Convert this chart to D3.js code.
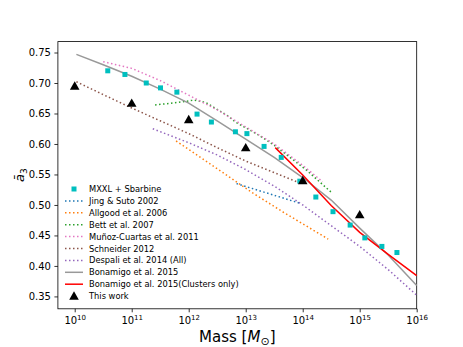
<!DOCTYPE html>
<html>
<head>
<meta charset="utf-8">
<script src="https://cdn.jsdelivr.net/npm/d3@7"></script>
<style>
  body { margin: 0; background: #fff; }
  text { font-family: "DejaVu Sans", sans-serif; }
</style>
</head>
<body>
<div id="chart"></div>
<script>
// data (mass in solar masses)
const mxxlMass = [3.8e10, 7.6e10, 1.8e11, 3.2e11, 6.2e11, 1.4e12, 2.5e12, 6.6e12, 1.05e13, 2.1e13, 4.2e13, 8.9e13, 1.7e14, 3.4e14, 6.8e14, 1.23e15, 2.45e15, 4.5e15];
const mxxlA3 = [0.720, 0.714, 0.700, 0.692, 0.685, 0.649, 0.636, 0.620, 0.617, 0.596, 0.578, 0.539, 0.513, 0.489, 0.467, 0.446, 0.432, 0.422];

const jingMass = [6.9e12, 9.5e13];
const jingA3 = [0.535, 0.502];

const allgoodMass = [6.0e11, 4.0e12, 1.26e13, 4.6e13, 2.8e14];
const allgoodA3 = [0.605, 0.553, 0.521, 0.488, 0.444];

const bettMass = [2.57e11, 6.3e11, 1.26e12, 2.0e12, 4.7e12, 6.6e12, 1.66e13, 3.16e13, 1.17e14, 3.24e14];
const bettA3 = [0.664, 0.668, 0.672, 0.668, 0.647, 0.636, 0.615, 0.598, 0.557, 0.520];

const munozMass = [3.16e10, 1e11, 3.16e11, 1e12, 3.16e12, 1e13, 3.16e13, 1e14, 2.24e14];
const munozA3 = [0.735, 0.724, 0.704, 0.680, 0.656, 0.628, 0.600, 0.565, 0.538];

const schneiderMass = [1.07e10, 3.16e10, 1e11, 3.16e11, 1e12, 3.16e12, 1e13, 3.16e13, 7.9e13];
const schneiderA3 = [0.702, 0.681, 0.659, 0.638, 0.617, 0.594, 0.572, 0.553, 0.538];

const despaliMass = [2.34e11, 1e12, 3.16e12, 1e13, 3.16e13, 1e14, 3.16e14, 1e15, 3.16e15, 1e16];
const despaliA3 = [0.625, 0.602, 0.582, 0.558, 0.531, 0.500, 0.466, 0.432, 0.394, 0.352];

const bonamigoMass = [1.07e10, 3.16e10, 1e11, 3.16e11, 1e12, 3.16e12, 1e13, 3.16e13, 1e14, 3.16e14, 1e15, 3.16e15, 1e16];
const bonamigoA3 = [0.747, 0.730, 0.711, 0.690, 0.667, 0.638, 0.608, 0.578, 0.545, 0.508, 0.462, 0.418, 0.368];

const clustersMass = [3.3e13, 1e14, 3.16e14, 1e15, 3.16e15, 1e16];
const clustersA3 = [0.594, 0.549, 0.499, 0.455, 0.419, 0.384];

const thisWorkMass = [1e10, 1e11, 1e12, 1e13, 1e14, 1e15];
const thisWorkA3 = [0.695, 0.667, 0.640, 0.594, 0.540, 0.484];

const xTicks = [1e10, 1e11, 1e12, 1e13, 1e14, 1e15, 1e16];
const yTicks = [0.35, 0.40, 0.45, 0.50, 0.55, 0.60, 0.65, 0.70, 0.75];

const zip = (xs, ys) => xs.map((x, i) => [x, ys[i]]);

const lineSeries = [
  { label: "Jing & Suto 2002", data: zip(jingMass, jingA3), color: "#1f77b4", dotted: true },
  { label: "Allgood et al. 2006", data: zip(allgoodMass, allgoodA3), color: "#ff7f0e", dotted: true },
  { label: "Bett et al. 2007", data: zip(bettMass, bettA3), color: "#2ca02c", dotted: true },
  { label: "Muñoz-Cuartas et al. 2011", data: zip(munozMass, munozA3), color: "#e377c2", dotted: true },
  { label: "Schneider 2012", data: zip(schneiderMass, schneiderA3), color: "#8c564b", dotted: true },
  { label: "Despali et al. 2014 (All)", data: zip(despaliMass, despaliA3), color: "#9467bd", dotted: true },
  { label: "Bonamigo et al. 2015", data: zip(bonamigoMass, bonamigoA3), color: "#999999", dotted: false },
  { label: "Bonamigo et al. 2015(Clusters only)", data: zip(clustersMass, clustersA3), color: "#ff0000", dotted: false }
];

const W = 463, H = 347;
const margin = { top: 41.6, right: 46.3, bottom: 38.2, left: 57.9 };

const svg = d3.select("#chart").append("svg")
  .attr("width", W)
  .attr("height", H);

const x = d3.scaleLog()
  .domain([Math.pow(10, 9.705), 1e16])
  .range([margin.left, W - margin.right]);

const y = d3.scaleLinear()
  .domain([0.3297, 0.7679])
  .range([H - margin.bottom, margin.top]);

const supDigits = { "0": "⁰", "1": "¹", "2": "²", "3": "³", "4": "⁴", "5": "⁵", "6": "⁶", "7": "⁷", "8": "⁸", "9": "⁹" };

// x axis
const xAxis = svg.append("g")
  .attr("transform", `translate(0,${H - margin.bottom})`)
  .call(d3.axisBottom(x).tickValues(xTicks).tickSize(3.5).tickPadding(3.5).tickFormat(""));
xAxis.select(".domain").remove();
xAxis.selectAll(".tick line").attr("stroke-width", 0.8);
xAxis.selectAll(".tick").each(function(d) {
  const t = d3.select(this).append("text")
    .attr("y", 15.5)
    .attr("fill", "#000")
    .attr("text-anchor", "middle")
    .style("font-size", "10px");
  t.append("tspan").text("10");
  t.append("tspan")
    .attr("dy", -4.5)
    .style("font-size", "7px")
    .text(String(Math.round(Math.log10(d))));
});

// y axis
const yAxis = svg.append("g")
  .attr("transform", `translate(${margin.left},0)`)
  .call(d3.axisLeft(y).tickValues(yTicks).tickSize(3.5).tickPadding(3.5).tickFormat(d3.format(".2f")));
yAxis.select(".domain").remove();
yAxis.selectAll(".tick line").attr("stroke-width", 0.8);
yAxis.selectAll(".tick text").style("font-size", "10px").attr("fill", "#000");

// frame
svg.append("rect")
  .attr("x", margin.left)
  .attr("y", margin.top)
  .attr("width", W - margin.left - margin.right)
  .attr("height", H - margin.top - margin.bottom)
  .attr("fill", "none")
  .attr("stroke", "#000")
  .attr("stroke-width", 0.8);

const plot = svg.append("g");

const line = d3.line()
  .x(d => x(d[0]))
  .y(d => y(d[1]));

lineSeries.forEach(s => {
  plot.append("path")
    .datum(s.data)
    .attr("d", line)
    .attr("fill", "none")
    .attr("stroke", s.color)
    .attr("stroke-width", 1.5)
    .attr("stroke-dasharray", s.dotted ? "1.5,2.5" : null);
});

// MXXL squares
plot.selectAll(".sq")
  .data(zip(mxxlMass, mxxlA3))
  .enter().append("rect")
    .attr("x", d => x(d[0]) - 2.5)
    .attr("y", d => y(d[1]) - 2.5)
    .attr("width", 5)
    .attr("height", 5)
    .attr("fill", "#00bfbf");

// this work triangles
const tri = d3.symbol().type(d3.symbolTriangle).size(40);
plot.selectAll(".tri")
  .data(zip(thisWorkMass, thisWorkA3))
  .enter().append("path")
    .attr("d", tri)
    .attr("transform", d => `translate(${x(d[0])},${y(d[1]) + 0.8})`)
    .attr("fill", "#000");

// legend
const legend = svg.append("g").attr("transform", "translate(65,189)");
const rowH = 11.9;
const legendItems = [{ label: "MXXL + Sbarbine", kind: "square" }]
  .concat(lineSeries.map(s => ({ label: s.label, kind: "line", s: s })))
  .concat([{ label: "This work", kind: "triangle" }]);

legendItems.forEach((it, i) => {
  const g = legend.append("g").attr("transform", `translate(0,${i * rowH})`);
  if (it.kind === "square") {
    g.append("rect").attr("x", 6.5).attr("y", -2.5).attr("width", 5).attr("height", 5).attr("fill", "#00bfbf");
  } else if (it.kind === "triangle") {
    g.append("path").attr("d", tri).attr("transform", "translate(9,0.8)").attr("fill", "#000");
  } else {
    g.append("line")
      .attr("x1", 0).attr("x2", 18)
      .attr("stroke", it.s.color)
      .attr("stroke-width", 1.5)
      .attr("stroke-dasharray", it.s.dotted ? "1.5,2.5" : null);
  }
  g.append("text")
    .attr("x", 24)
    .attr("y", 3)
    .style("font-size", "8.3px")
    .text(it.label);
});

// axis labels
const xl = svg.append("text")
  .attr("x", (margin.left + W - margin.right) / 2)
  .attr("y", 342)
  .attr("text-anchor", "middle")
  .style("font-size", "15px");
xl.append("tspan").text("Mass [");
xl.append("tspan").style("font-style", "italic").text("M");
xl.append("tspan").attr("dy", 3).style("font-size", "11px").text("⊙");
xl.append("tspan").attr("dy", -3).text("]");

const yl = svg.append("text")
  .attr("transform", `translate(24,${(margin.top + H - margin.bottom) / 2}) rotate(-90)`)
  .attr("text-anchor", "middle")
  .style("font-size", "13px");
yl.append("tspan").style("font-style", "italic").text("ā");
yl.append("tspan").attr("dy", 3).style("font-size", "9px").text("3");
</script>
</body>
</html>
